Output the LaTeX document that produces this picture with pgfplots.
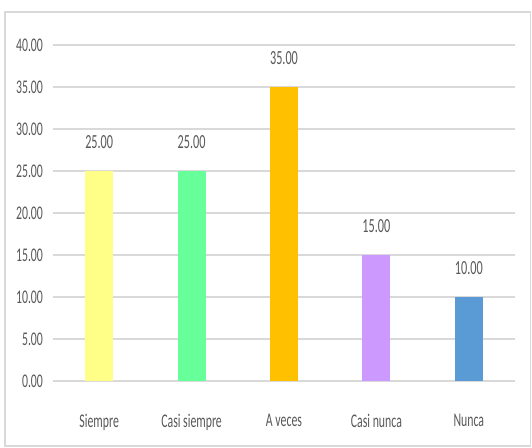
\documentclass[border=0pt]{standalone}
\usepackage{fontspec}
\setmainfont{Carlito}[FakeStretch=0.61]
\usepackage{pgfplots}
\pgfplotsset{compat=1.18}
\definecolor{txt}{HTML}{595959}
\definecolor{gridc}{HTML}{D9D9D9}
\definecolor{cA}{HTML}{FFFF88}
\definecolor{cB}{HTML}{66FF99}
\definecolor{cC}{HTML}{FFC000}
\definecolor{cD}{HTML}{CC99FF}
\definecolor{cE}{HTML}{5B9BD5}
\begin{document}
\begin{tikzpicture}
\fill[white] (0,0) rectangle (399pt,336pt);
\draw[gridc, line width=0.8pt] (3.75pt,1.5pt) rectangle (398pt,327pt);
\begin{axis}[
  at={(39.75pt,50.25pt)}, anchor=south west,
  scale only axis, width=346.5pt, height=252pt,
  xmin=-0.5, xmax=4.5, ymin=0, ymax=40,
  ytick={0,5,...,40},
  xtick={0,1,2,3,4},
  xticklabels={Siempre,Casi siempre,A veces,Casi nunca,Nunca},
  axis line style={draw=none},
  major tick length=0pt,
  xmajorgrids=false, ymajorgrids=true,
  grid style={draw=gridc, line width=1pt},
  /pgf/number format/fixed,
  /pgf/number format/fixed zerofill,
  /pgf/number format/precision=2,
  /pgf/number format/assume math mode=true,
  ticklabel style={font=\fontsize{14.5}{16}\selectfont, text=txt},
  xticklabel style={yshift=-21pt},
  yticklabel style={xshift=-4pt},
  ybar, bar width=21pt, bar shift=0pt,
  nodes near coords,
  nodes near coords style={font=\fontsize{15}{17}\selectfont, text=txt, yshift=13pt},
]
\addplot[draw=none, fill=cA] coordinates {(0,25)};
\addplot[draw=none, fill=cB] coordinates {(1,25)};
\addplot[draw=none, fill=cC] coordinates {(2,35)};
\addplot[draw=none, fill=cD] coordinates {(3,15)};
\addplot[draw=none, fill=cE] coordinates {(4,10)};
\end{axis}
\end{tikzpicture}
\end{document}
